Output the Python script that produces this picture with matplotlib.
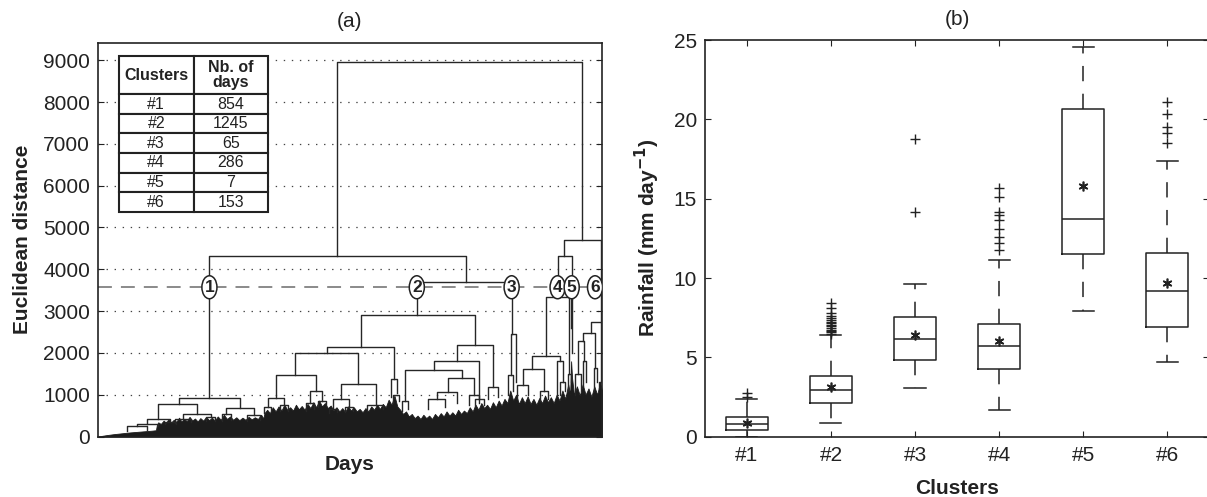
import numpy as np
import matplotlib.pyplot as plt
from matplotlib.patches import Ellipse

plt.rcParams['font.family'] = ['Liberation Sans', 'DejaVu Sans']
plt.rcParams['lines.scale_dashes'] = False

# ---- panel (a): dendrogram, x in days (leaf order), y in euclidean distance
# links: (x_left, x_right, height, left_bottom, right_bottom)
links_top = [
    (1239, 2507, 8970, 4325, 4695),
    (577, 1905, 4325, 913, 3690),
    (1651, 2142, 3690, 2905, 2452),
    (2414, 2605, 4695, 4320, 2740),
    (2380, 2453, 4320, 3334, 3300),
]
links_c1 = [
    (417, 737, 913, 769, 673),
    (310, 512, 769, 425, 529),
    (663, 806, 673, 529, 505),
    (256, 374, 425, 288, 340),
    (201, 313, 288, 240, 250),
    (150, 252, 240, 130, 160),
    (345, 403, 340, 300, 310),
    (440, 584, 529, 420, 460),
    (400, 480, 420, 330, 350),
    (560, 608, 460, 370, 380),
    (640, 690, 529, 380, 400),
    (770, 840, 505, 380, 400),
]
links_c2 = [
    (1360, 1951, 2905, 2151, 2190),
    (1188, 1535, 2151, 2008, 1370),
    (1022, 1346, 2008, 1476, 1262),
    (922, 1127, 1476, 920, 1095),
    (879, 963, 920, 700, 750),
    (1096, 1161, 1095, 800, 850),
    (1259, 1438, 1262, 897, 762),
    (1216, 1299, 897, 650, 700),
    (1392, 1475, 762, 600, 650),
    (1518, 1549, 1370, 950, 1050),
    (1860, 2045, 2190, 1810, 1175),
    (1738, 1975, 1810, 1580, 900),
    (1590, 1886, 1580, 841, 1410),
    (1573, 1605, 841, 600, 650),
    (1812, 1947, 1410, 1071, 1000),
    (1757, 1860, 1071, 890, 800),
    (1707, 1799, 890, 650, 700),
    (2021, 2071, 1175, 900, 950),
    (1950, 2000, 900, 700, 750),
    (1920, 1974, 1000, 750, 800),
    (860, 898, 700, 560, 600),
    (940, 986, 750, 600, 620),
    (1075, 1117, 800, 620, 650),
    (1140, 1182, 850, 700, 720),
    (1195, 1237, 650, 560, 580),
    (1280, 1318, 700, 580, 600),
    (1530, 1560, 1000, 800, 850),
]
links_c3 = [
    (2138, 2164, 2452, 1466, 1300),
    (2125, 2150, 1466, 1000, 1100),
]
links_c4 = [
    (2319, 2441, 3334, 1930, 1500),
    (2250, 2390, 1930, 1610, 1810),
    (2199, 2311, 1610, 1220, 1100),
    (2375, 2406, 1810, 1000, 1300),
    (2170, 2228, 1220, 900, 1000),
    (2290, 2332, 1100, 850, 900),
    (2434, 2448, 1500, 1100, 1300),
    (2395, 2416, 1300, 1000, 1100),
]
links_c5 = [
    (2450, 2456, 3300, 2600, 2000),
]
links_c6 = [
    (2553, 2605, 2740, 2470, 1300),
    (2510, 2574, 2470, 2290, 1650),
    (2487, 2518, 2290, 1500, 1800),
    (2568, 2582, 1650, 1100, 1300),
    (2470, 2500, 1500, 1000, 1100),
    (2510, 2526, 1800, 1200, 1300),
    (2592, 2612, 1300, 1150, 1250),
]

# top outline of the dense lower part of the tree
mass_day = [0, 40, 80, 120, 160, 200, 240, 280, 300, 305, 312, 325, 340, 352,
            365, 378, 392, 405, 420, 432, 446, 460, 474, 488, 502, 516, 530,
            545, 560, 575, 590, 605, 620, 636, 652, 668, 684, 700, 716, 732,
            748, 764, 780, 796, 812, 828, 845, 856, 862, 876, 890, 905, 920,
            935, 950, 965, 980, 995, 1010, 1025, 1040, 1055, 1070, 1085, 1100,
            1115, 1130, 1145, 1160, 1175, 1190, 1205, 1220, 1235, 1250, 1265,
            1280, 1295, 1310, 1325, 1340, 1355, 1370, 1385, 1400, 1415, 1430,
            1445, 1460, 1475, 1490, 1505, 1520, 1535, 1550, 1565, 1580, 1595,
            1610, 1625, 1640, 1655, 1670, 1685, 1700, 1715, 1730, 1745, 1760,
            1775, 1790, 1805, 1820, 1835, 1850, 1865, 1880, 1895, 1910, 1925,
            1940, 1955, 1970, 1985, 2000, 2015, 2030, 2045, 2060, 2075, 2090,
            2105, 2120, 2135, 2150, 2165, 2180, 2195, 2210, 2225, 2240, 2255,
            2270, 2285, 2300, 2315, 2330, 2345, 2360, 2375, 2390, 2405, 2420,
            2435, 2445, 2450, 2455, 2465, 2480, 2495, 2510, 2525, 2540, 2555,
            2570, 2585, 2600, 2610]
mass_top = [0, 30, 55, 75, 95, 110, 125, 140, 150, 280, 340, 300, 380, 320,
            420, 330, 400, 350, 450, 360, 420, 370, 470, 380, 430, 360, 440,
            380, 470, 390, 450, 380, 480, 400, 520, 420, 480, 400, 460, 390,
            450, 400, 470, 410, 460, 420, 520, 430, 560, 640, 560, 700, 600,
            720, 620, 760, 640, 700, 620, 760, 650, 730, 640, 780, 680,
            820, 700, 860, 720, 800, 680, 740, 620, 700, 600, 680,
            590, 720, 620, 700, 600, 660, 580, 680, 600, 720, 640,
            760, 660, 780, 700, 880, 760, 980, 720, 640, 540, 600,
            480, 540, 440, 500, 420, 520, 440, 500, 420, 540, 460,
            560, 480, 600, 500, 580, 500, 640, 540, 620, 560, 700,
            600, 760, 640, 800, 680, 760, 660, 820, 700, 860, 740,
            900, 800, 1100, 860, 1000, 780, 940, 800, 960, 780, 900,
            760, 920, 800, 980, 820, 940, 800, 1000, 860, 1100, 900,
            1250, 1000, 1800, 1400, 1000, 1200, 980, 1250, 1000, 1150, 950,
            1200, 1000, 1300, 1100]

cut_level = 3570
circle_labels = ['1', '2', '3', '4', '5', '6']
circle_days = [577, 1651, 2142, 2380, 2453, 2574]

cluster_names = ['#1', '#2', '#3', '#4', '#5', '#6']
cluster_days = [854, 1245, 65, 286, 7, 153]

# ---- panel (b): rainfall boxplots
box_med = [0.80, 2.94, 6.16, 5.70, 13.70, 9.18]
box_q1 = [0.42, 2.12, 4.85, 4.26, 11.51, 6.93]
box_q3 = [1.21, 3.84, 7.52, 7.10, 20.65, 11.6]
box_lo = [0.0, 0.89, 3.09, 1.68, 7.92, 4.70]
box_hi = [2.37, 6.42, 9.62, 11.13, 24.54, 17.37]
box_mean = [0.86, 3.15, 6.41, 6.03, 15.82, 9.71]
box_fliers = [
    [2.75, 2.5],
    [8.4, 8.1, 7.8, 7.6, 7.45, 7.35, 7.25, 7.15, 7.05, 6.95, 6.85, 6.75,
     6.65, 6.58, 6.5],
    [18.74, 14.14],
    [15.69, 15.08, 14.14, 13.97, 13.66, 13.07, 12.6, 12.18, 11.74],
    [],
    [21.08, 20.31, 19.52, 19.12, 18.53],
]

W, H = 1207, 497
ink = '#222222'
fig = plt.figure(figsize=(W / 100, H / 100), dpi=100)
ax1 = fig.add_axes([98 / W, 1 - 436.5 / H, 504 / W, 393.8 / H])
ax2 = fig.add_axes([705 / W, 1 - 436.7 / H, 504 / W, 396.7 / H])

# dendrogram
ax1.fill_between(mass_day, 0, mass_top, color='#1c1c1c', lw=0.6,
                 edgecolor='#1c1c1c', zorder=2)
for group in [links_top, links_c1, links_c2, links_c3, links_c4, links_c5, links_c6]:
    for xl, xr, h, hl, hr in group:
        ax1.plot([xl, xl, xr, xr], [hl, h, h, hr], color='#262626', lw=1.0,
                 zorder=3)

ax1.axhline(cut_level, color='#8a8a8a', lw=1.4, linestyle=(0, (10, 6.5)), zorder=2.5)
for lab, xd in zip(circle_labels, circle_days):
    ax1.add_patch(Ellipse((xd, cut_level), 78, 550, fc='white', ec=ink, lw=1.1,
                          zorder=4))
    ax1.text(xd, cut_level, lab, ha='center', va='center', fontsize=12.5,
             fontweight='bold', color=ink, zorder=5)

ax1.set_xlim(0, 2610)
ax1.set_ylim(0, 9420)
ax1.set_xticks([])
ax1.set_yticks(range(0, 9001, 1000))
ax1.set_axisbelow(True)
ax1.yaxis.grid(True, linestyle=(0, (1, 4.8)), color='#444444', lw=0.9)
ax1.tick_params(axis='y', direction='in', length=4, right=True, labelsize=15,
                pad=5.8, colors=ink)
ax1.set_ylabel('Euclidean distance', fontsize=15, fontweight='bold', labelpad=8,
               color=ink)
ax1.set_xlabel('Days', fontsize=15, fontweight='bold', labelpad=13, color=ink)
ax1.set_title('(a)', fontsize=15, pad=11.5, color=ink)

tab = ax1.table(cellText=[[c, str(n)] for c, n in zip(cluster_names, cluster_days)],
                colLabels=['Clusters', 'Nb. of\ndays'], cellLoc='center',
                bbox=[0.0417, 0.570, 0.2956, 0.396], zorder=6)
tab.auto_set_font_size(False)
tab.set_fontsize(11.5)
for (r, c), cell in tab.get_celld().items():
    cell.set_linewidth(1.5)
    cell.set_edgecolor(ink)
    cell.set_height(1.94 if r == 0 else 1.0)
    cell.get_text().set_color(ink)
    if r == 0:
        cell.get_text().set_fontweight('bold')
        cell.get_text().set_linespacing(0.95)

# boxplots
stats = []
for i in range(len(cluster_names)):
    stats.append(dict(med=box_med[i], q1=box_q1[i], q3=box_q3[i],
                      whislo=box_lo[i], whishi=box_hi[i], mean=box_mean[i],
                      fliers=box_fliers[i], label=cluster_names[i]))
line_kw = dict(color=ink, lw=1.1)
ax2.bxp(stats, positions=range(1, 7), widths=0.5, capwidths=0.25,
        showmeans=True, boxprops=line_kw, medianprops=line_kw, capprops=line_kw,
        whiskerprops=dict(color=ink, lw=1.1, linestyle=(0, (11, 9))),
        meanprops=dict(marker=(6, 2, 0), ms=7, mfc=ink, mec=ink, mew=1.2),
        flierprops=dict(marker='+', ms=7, mec=ink, mew=1.0))
ax2.set_xlim(0.5, 6.5)
ax2.set_ylim(0, 25)
ax2.set_yticks(range(0, 26, 5))
ax2.tick_params(direction='in', length=4, top=True, right=True, labelsize=15,
                colors=ink)
ax2.tick_params(axis='y', pad=5.8)
ax2.tick_params(axis='x', pad=6.5)
ax2.set_ylabel('Rainfall (mm day$^{\\mathbf{-1}}$)', fontsize=15, fontweight='bold',
               labelpad=8, color=ink)
ax2.set_xlabel('Clusters', fontsize=15, fontweight='bold', labelpad=10, color=ink)
ax2.set_title('(b)', fontsize=15, pad=10.5, color=ink)

for ax in (ax1, ax2):
    for sp in ax.spines.values():
        sp.set_linewidth(1.2)
        sp.set_color(ink)

fig.savefig('out.png', dpi=100)
